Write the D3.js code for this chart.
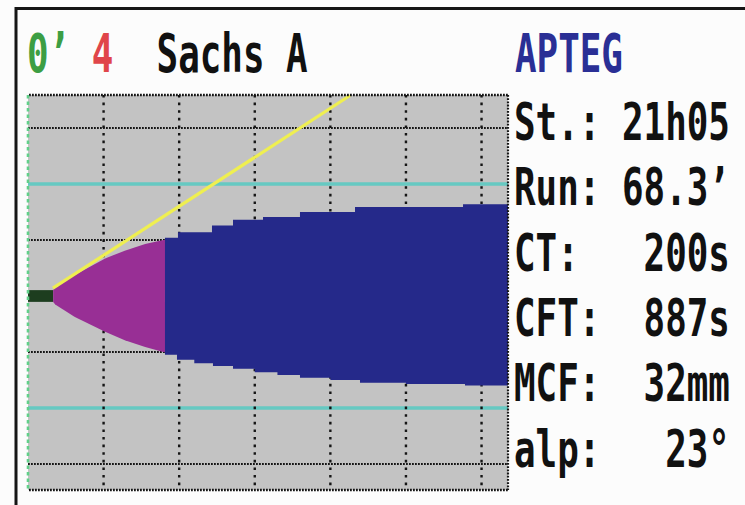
<!DOCTYPE html>
<html>
<head>
<meta charset="utf-8">
<script src="https://cdn.jsdelivr.net/npm/d3@7"></script>
<style>
  html, body { margin: 0; padding: 0; background: #fcfcfc; }
  svg { display: block; }
  text { white-space: pre; }
</style>
</head>
<body>
<svg id="chart" width="745" height="505"></svg>
<script>
// ---- data -------------------------------------------------------------
// Time in minutes; amplitude as half-amplitude (mm) above (up) and below (lo) the baseline.
const timeGrid = [10, 20, 30, 40, 50, 60];
const ampGridDotted = [-30, -10, 10, 30];
const ampGridCyan = [-20, 20];

// before clotting time (CT = 200 s)
const preCTTrace = [
  { t: 0.0,  up: 1.05, lo: 1.05 },
  { t: 3.33, up: 1.05, lo: 1.05 }
];
// clot formation phase (CT .. CT + CFT = 1087 s)
const cftTrace = [
  { t: 3.33,  up: 1.05, lo: 1.05 },
  { t: 3.6,   up: 1.5,  lo: 1.5 },
  { t: 6.2,   up: 3.75, lo: 3.75 },
  { t: 10.2,  up: 6.7,  lo: 6.4 },
  { t: 12.8,  up: 8.1,  lo: 7.9 },
  { t: 15.5,  up: 9.3,  lo: 9.1 },
  { t: 17.9,  up: 10.0, lo: 10.0 },
  { t: 18.12, up: 10.0, lo: 10.0 }
];
// firmness phase, upper and lower envelopes
const clotUpper = [
  { t: 18.12, a: 10.4 },
  { t: 19.84, a: 11.4 },
  { t: 24.34, a: 12.6 },
  { t: 27.12, a: 13.6 },
  { t: 31.09, a: 14.1 },
  { t: 35.98, a: 15.0 },
  { t: 43.26, a: 15.9 },
  { t: 57.55, a: 16.4 },
  { t: 63.5,  a: 16.4 }
];
const clotLower = [
  { t: 18.12, a: 10.5 },
  { t: 19.71, a: 11.4 },
  { t: 22.0,  a: 12.0 },
  { t: 24.47, a: 12.5 },
  { t: 27.12, a: 13.0 },
  { t: 30.0,  a: 13.6 },
  { t: 33.0,  a: 14.1 },
  { t: 35.98, a: 14.6 },
  { t: 40.0,  a: 15.0 },
  { t: 43.92, a: 15.5 },
  { t: 50.0,  a: 15.7 },
  { t: 57.81, a: 16.0 },
  { t: 63.5,  a: 16.0 }
];
// alpha-angle tangent
const alphaLine = [
  { t: 3.3,  a: 1.4 },
  { t: 42.6, a: 35.8 }
];

const headerParts = [
  { text: "0’", color: "#3c9e44" },
  { text: " ",  color: "#111" },
  { text: "4",  color: "#e0454a" },
  { text: "  Sachs A", color: "#111" }
];
const deviceName = "APTEG";
const resultLabels = ["St.:", "Run:", "CT:", "CFT:", "MCF:", "alp:"];
const resultValues = ["21h05", "68.3’", "200s", "887s", "32mm", "23°"];

// ---- layout -----------------------------------------------------------
const plot = { left: 28, right: 508, top: 95, bottom: 490 };
const svg = d3.select("#chart");

const x = d3.scaleLinear().domain([0, 63.5]).range([plot.left, plot.right]);
const y = d3.scaleLinear().domain([-30, 30]).range([464, 128]);

// outer frame
svg.append("path")
  .attr("d", "M16,506 L16,8.5 L746,8.5")
  .attr("fill", "none").attr("stroke", "#151515").attr("stroke-width", 3);

// plot background
svg.append("rect")
  .attr("x", plot.left).attr("y", plot.top)
  .attr("width", plot.right - plot.left).attr("height", plot.bottom - plot.top)
  .attr("fill", "#c3c3c3");

const grid = svg.append("g");
// cyan amplitude lines
grid.selectAll("line.cyan").data(ampGridCyan).join("line")
  .attr("class", "cyan")
  .attr("x1", plot.left).attr("x2", plot.right)
  .attr("y1", d => y(d)).attr("y2", d => y(d))
  .attr("stroke", "#66c9c2").attr("stroke-width", 3.5);
// dotted amplitude lines
grid.selectAll("line.amp").data(ampGridDotted).join("line")
  .attr("class", "amp")
  .attr("x1", plot.left).attr("x2", plot.right)
  .attr("y1", d => y(d)).attr("y2", d => y(d))
  .attr("stroke", "#151515").attr("stroke-width", 2.2)
  .attr("stroke-dasharray", "1.8,1.2");
// dotted time lines
grid.selectAll("line.time").data(timeGrid).join("line")
  .attr("class", "time")
  .attr("x1", d => x(d)).attr("x2", d => x(d))
  .attr("y1", plot.top).attr("y2", plot.bottom)
  .attr("stroke", "#151515").attr("stroke-width", 2.4)
  .attr("stroke-dasharray", "2.6,5");

// ---- trace ------------------------------------------------------------
const phaseArea = d3.area()
  .x(d => x(d.t))
  .y0(d => y(-d.lo))
  .y1(d => y(d.up));

svg.append("path").datum(preCTTrace)
  .attr("d", phaseArea.curve(d3.curveLinear))
  .attr("fill", "#1d3d1f");

svg.append("path").datum(cftTrace)
  .attr("d", phaseArea.curve(d3.curveLinear))
  .attr("fill", "#982f95");

// firmness phase: merge both envelopes on the union of their time steps
const stepVal = (arr, t) => {
  let v = arr[0].a;
  for (const p of arr) { if (p.t <= t + 1e-9) v = p.a; }
  return v;
};
const clotTimes = Array.from(new Set([...clotUpper, ...clotLower].map(p => p.t))).sort((a, b) => a - b);
const clotTrace = clotTimes.map(t => ({ t, up: stepVal(clotUpper, t), lo: stepVal(clotLower, t) }));
svg.append("path").datum(clotTrace)
  .attr("d", phaseArea.curve(d3.curveStepAfter))
  .attr("fill", "#25298a");

// alpha tangent
svg.append("path").datum(alphaLine)
  .attr("d", d3.line().x(d => x(d.t)).y(d => y(d.a)))
  .attr("fill", "none").attr("stroke", "#efef50").attr("stroke-width", 3.2);

// plot edges
const edges = svg.append("g").attr("fill", "none");
edges.append("line")
  .attr("x1", plot.left + 1).attr("x2", plot.right).attr("y1", plot.top).attr("y2", plot.top)
  .attr("stroke", "#151515").attr("stroke-width", 2.4).attr("stroke-dasharray", "1.8,1.2");
edges.append("line")
  .attr("x1", plot.left + 1).attr("x2", plot.right).attr("y1", plot.bottom).attr("y2", plot.bottom)
  .attr("stroke", "#151515").attr("stroke-width", 2.4).attr("stroke-dasharray", "1.8,1.2");
edges.append("line")
  .attr("x1", plot.right).attr("x2", plot.right).attr("y1", plot.top).attr("y2", plot.bottom)
  .attr("stroke", "#151515").attr("stroke-width", 2.2).attr("stroke-dasharray", "1.8,1.4");
edges.append("line")
  .attr("x1", plot.left).attr("x2", plot.left).attr("y1", plot.top).attr("y2", plot.bottom)
  .attr("stroke", "#62d08a").attr("stroke-width", 2.6).attr("stroke-dasharray", "3.5,3");

// ---- text -------------------------------------------------------------
// tall, narrow monospace lettering: fixed cell width, stretched glyph height
const CELL = 21.6;
function monoText(xPos, baseline, fontSize) {
  const sx = CELL / (0.6021 * fontSize);
  return svg.append("text")
    .attr("xml:space", "preserve")
    .attr("transform", `translate(${xPos},${baseline}) scale(${sx},1)`)
    .attr("font-family", "'DejaVu Sans Mono', monospace")
    .attr("font-weight", "bold")
    .attr("font-size", fontSize);
}

const header = monoText(27, 72, 54);
header.selectAll("tspan").data(headerParts).join("tspan")
  .attr("fill", d => d.color)
  .text(d => d.text);

monoText(515, 72, 54).attr("fill", "#2a2f95").text(deviceName);

const rowTop = 140, rowStep = 65.3;
resultLabels.forEach((lab, i) => {
  const val = resultValues[i];
  const row = lab + " ".repeat(Math.max(1, 10 - lab.length - val.length)) + val;
  monoText(514, rowTop + i * rowStep, 51).attr("fill", "#111").text(row);
});
</script>
</body>
</html>
